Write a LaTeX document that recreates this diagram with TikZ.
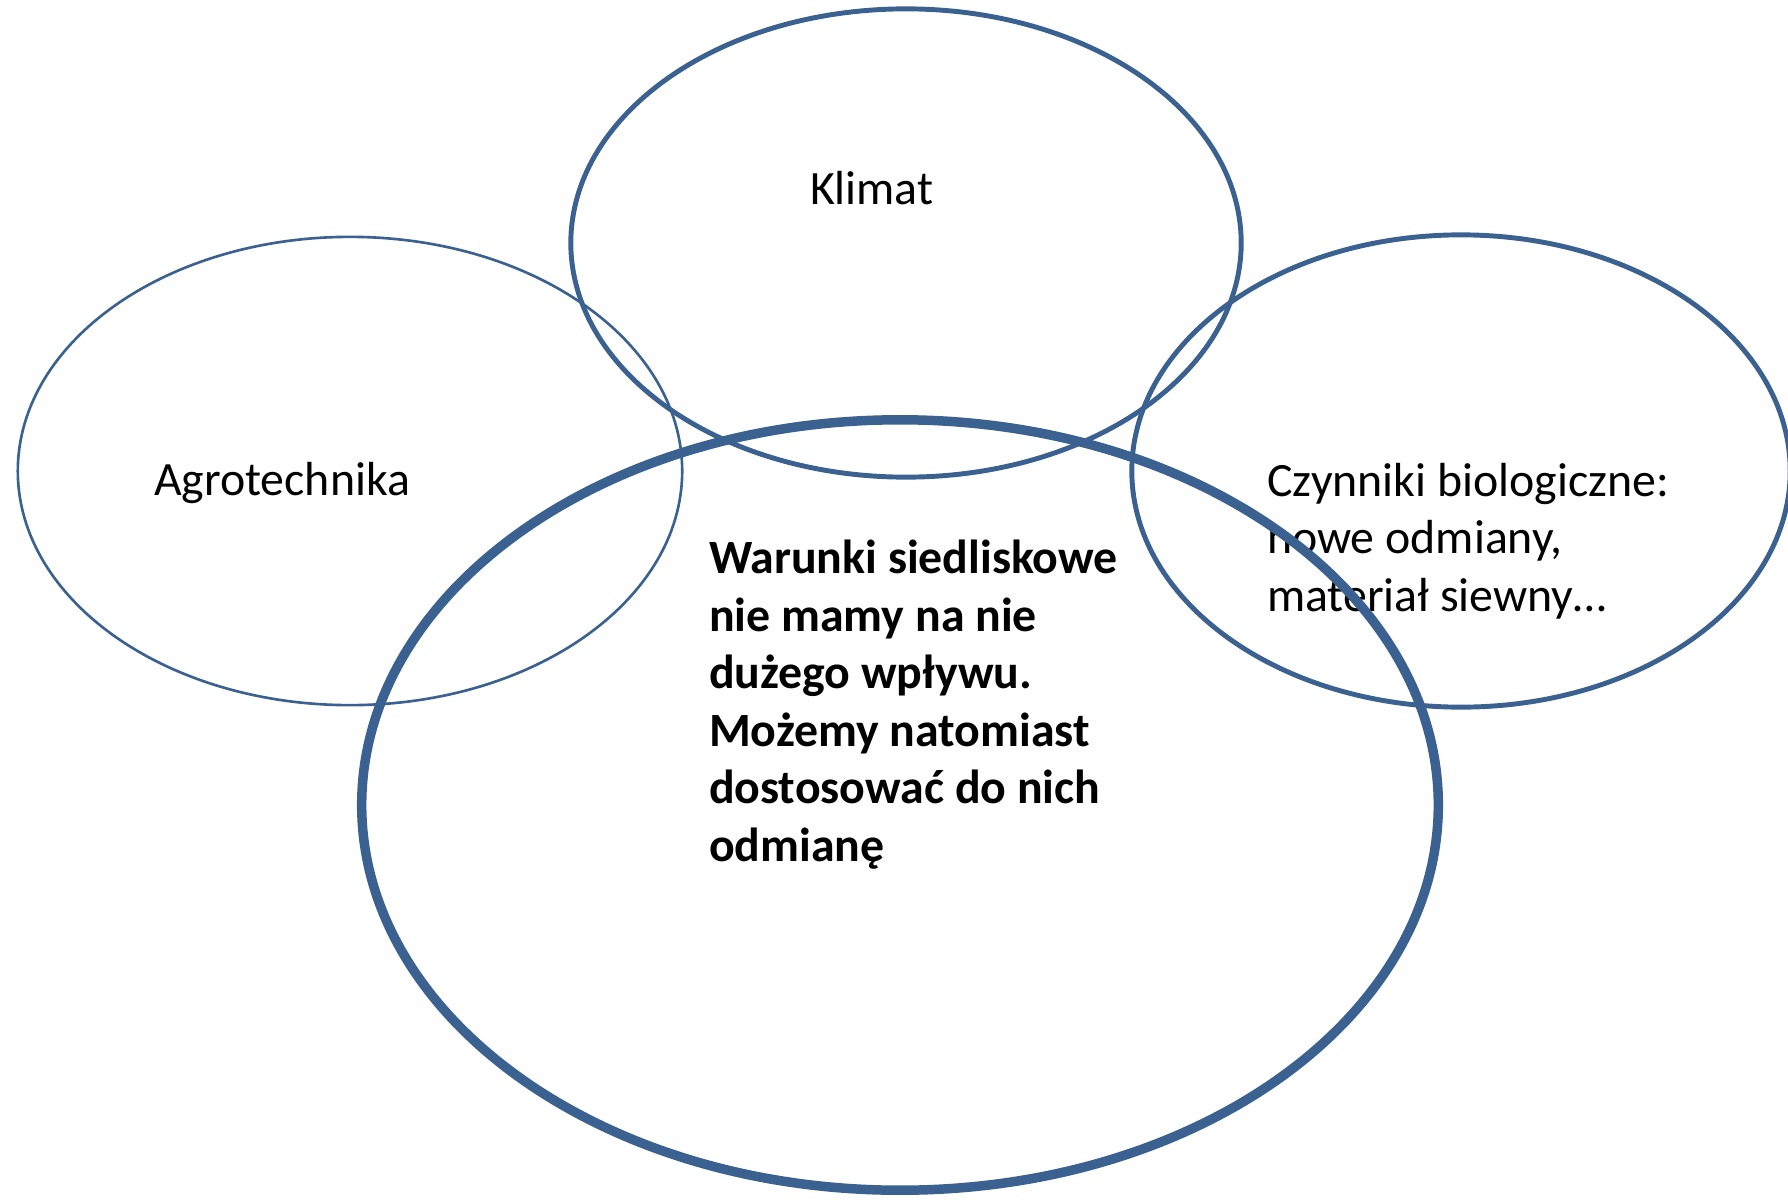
\documentclass[tikz,border=0pt]{standalone}
\usepackage{fontspec}
\setmainfont{Carlito}
\usetikzlibrary{shapes.geometric}
\definecolor{vennblue}{RGB}{59,97,145}
\begin{document}
\begin{tikzpicture}[x=0.01cm,y=-0.01cm,
  venn/.style={ellipse, draw=vennblue, inner sep=0pt, outer sep=0pt},
  lbl/.style={anchor=base west, inner sep=0pt, outer sep=0pt, align=left, font=\fontsize{13.6pt}{16.35pt}\selectfont},
  boldlbl/.style={lbl, font=\fontsize{13.6pt}{16.35pt}\selectfont\bfseries},
]
\useasboundingbox (0,0) rectangle (1788,1200);
\fill[white] (0,0) rectangle (1788,1200);
% labels (base anchor of a multi-line node = baseline of its last line)
\node[lbl] (klimat) at (810,204) {Klimat};
\node[lbl] (agrotxt) at (154,495) {Agrotechnika};
\node[lbl] (czyn) at (1267,611) {Czynniki biologiczne:\\nowe odmiany,\\materiał siewny…};
\node[boldlbl] (war) at (709,861) {Warunki siedliskowe\\nie mamy na nie\\dużego wpływu.\\Możemy natomiast\\dostosować do nich\\odmianę};
% circles
\node[venn, line width=0.75pt, minimum width=6.64cm, minimum height=4.68cm] (agro) at (350,471) {};
\node[venn, line width=1.4pt, minimum width=6.70cm, minimum height=4.68cm] (klim) at (906,243) {};
\node[venn, line width=1.4pt, minimum width=6.58cm, minimum height=4.72cm] (bio) at (1461,471) {};
\node[venn, line width=2.7pt, minimum width=10.76cm, minimum height=7.70cm] (siedl) at (900,805) {};
\end{tikzpicture}
\end{document}
